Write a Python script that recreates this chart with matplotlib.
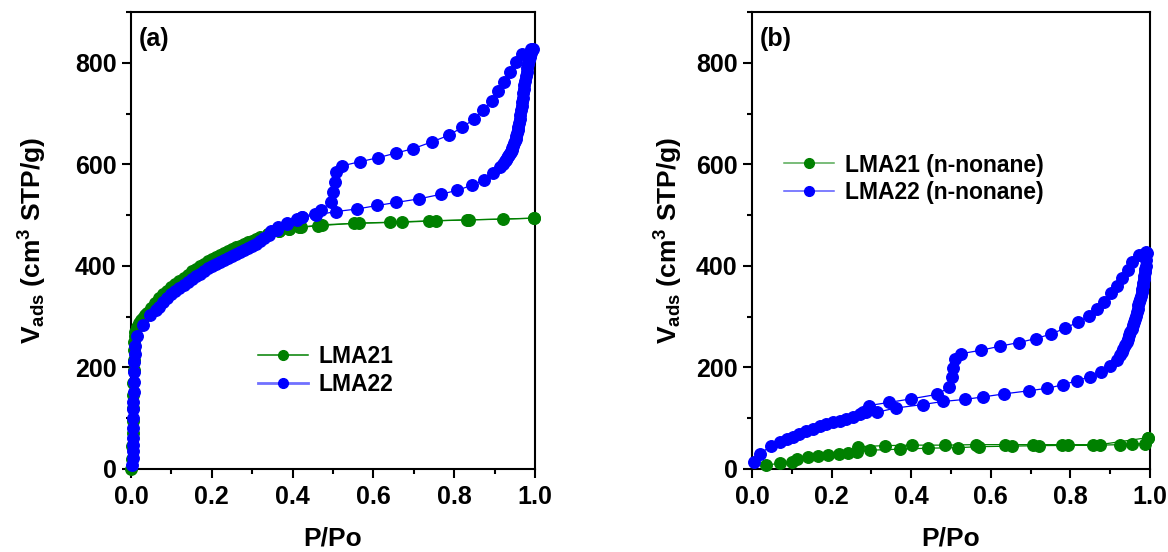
import matplotlib
matplotlib.use("Agg")
import matplotlib.pyplot as plt
from matplotlib.lines import Line2D
from matplotlib.ticker import MultipleLocator

plt.rcParams['font.family'] = ['Liberation Sans', 'DejaVu Sans']
plt.rcParams['font.weight'] = 'bold'
plt.rcParams['mathtext.fontset'] = 'custom'
plt.rcParams['mathtext.rm'] = 'Liberation Sans:bold'
plt.rcParams['mathtext.bf'] = 'Liberation Sans:bold'
plt.rcParams['mathtext.it'] = 'Liberation Sans:bold'

# ---------------- Panel (a) data ----------------
a_lma21_ads_p = [0.001, 0.002, 0.003, 0.004, 0.005, 0.005, 0.006, 0.006, 0.007, 0.007, 0.008, 0.008,
                 0.009, 0.010, 0.015, 0.020, 0.025, 0.030, 0.035, 0.040, 0.050, 0.060, 0.070, 0.080,
                 0.090, 0.100, 0.110, 0.120, 0.130, 0.140, 0.150, 0.160, 0.170, 0.180, 0.190, 0.200,
                 0.210, 0.220, 0.230, 0.240, 0.250, 0.260, 0.270, 0.280, 0.290, 0.300, 0.310, 0.320,
                 0.340, 0.366, 0.391, 0.420, 0.463, 0.552, 0.641, 0.738, 0.831, 0.922, 0.998]
a_lma21_ads_v = [0, 20, 45, 70, 95, 120, 145, 170, 195, 215, 235, 250,
                 262, 270, 280, 287, 293, 298, 303, 308, 318, 327, 336, 344,
                 351, 358, 365, 371, 377, 383, 389, 394, 399, 404, 409, 413,
                 417, 421, 425, 429, 433, 437, 440, 444, 447, 450, 453, 456,
                 463, 468, 472, 476, 479, 484, 486, 488.7, 490.6, 492, 494]
a_lma21_des_p = [0.998, 0.837, 0.754, 0.670, 0.564, 0.474, 0.416, 0.391, 0.366, 0.340]
a_lma21_des_v = [494, 490.6, 488.7, 486, 484, 481, 476, 472, 468, 463]

a_lma22_ads_p = [0.003, 0.004, 0.004, 0.005, 0.005, 0.005, 0.006, 0.006, 0.006, 0.007, 0.007, 0.008,
                 0.008, 0.009, 0.010, 0.016, 0.029, 0.047, 0.062, 0.070, 0.080, 0.090, 0.100, 0.110,
                 0.120, 0.130, 0.140, 0.150, 0.160, 0.170, 0.180, 0.190, 0.200, 0.210, 0.220, 0.230,
                 0.240, 0.250, 0.260, 0.270, 0.280, 0.290, 0.300, 0.310, 0.320, 0.330, 0.342, 0.362,
                 0.387, 0.410, 0.424, 0.457, 0.507, 0.559, 0.610, 0.657, 0.713, 0.767, 0.808, 0.845,
                 0.874, 0.896, 0.913, 0.920, 0.925, 0.928, 0.931, 0.934, 0.936, 0.938, 0.940, 0.942,
                 0.944, 0.946, 0.948, 0.950, 0.952, 0.954, 0.956, 0.958, 0.959, 0.961, 0.962, 0.964,
                 0.965, 0.967, 0.968, 0.970, 0.971, 0.973, 0.974, 0.976, 0.978, 0.980, 0.981, 0.983,
                 0.985, 0.987, 0.988, 0.990, 0.991, 0.993, 0.995]
a_lma22_ads_v = [8, 22, 35, 48, 61, 80, 100, 119, 132, 152, 171, 191,
                 210, 227, 243, 262, 283, 303, 314, 320, 328, 336, 344, 351,
                 357, 363, 369, 375, 380, 385, 390, 395, 399, 403, 407, 411,
                 415, 419, 423, 427, 431, 435, 439, 444, 449, 454, 460, 470,
                 482, 491, 496, 500, 507, 512, 519, 525, 532, 541, 549, 559,
                 569, 582, 594, 600, 606, 609, 612, 616, 619, 622, 625, 628,
                 632, 637, 642, 646, 650, 655, 661, 667, 674, 682, 690, 698,
                 707, 715, 723, 731, 740, 748, 756, 765, 773, 782, 790, 798,
                 806, 811, 816, 820, 824, 826, 828]
a_lma22_des_p = [0.990, 0.969, 0.952, 0.938, 0.923, 0.909, 0.893, 0.872, 0.849, 0.820, 0.786, 0.744,
                 0.699, 0.655, 0.611, 0.566, 0.522, 0.507, 0.504, 0.500, 0.494, 0.471, 0.455, 0.424,
                 0.410, 0.387, 0.365, 0.347]
a_lma22_des_v = [828, 817, 801, 782, 763, 744, 724, 707, 689, 673, 657, 644,
                 631, 622, 613, 605, 597, 584, 565, 545, 525, 510, 503, 497,
                 492, 485, 476, 468]

# ---------------- Panel (b) data ----------------
b_lma21_ads_p = [0.036, 0.070, 0.101, 0.113, 0.140, 0.165, 0.191, 0.218, 0.241, 0.265, 0.296, 0.371,
                 0.442, 0.518, 0.571, 0.653, 0.720, 0.794, 0.857, 0.924, 0.954, 0.987, 0.996]
b_lma21_ads_v = [8, 11, 14.5, 20, 23, 25.5, 27.5, 29.4, 32, 34, 37, 39,
                 41, 42, 44, 45, 46, 46.5, 46.5, 48, 49, 50, 62]
b_lma21_des_p = [0.996, 0.874, 0.779, 0.706, 0.636, 0.563, 0.485, 0.403, 0.334, 0.266]
b_lma21_des_v = [62, 48, 48, 48, 48, 48, 47, 47, 46, 44]

b_lma22_ads_p = [0.004, 0.019, 0.048, 0.071, 0.087, 0.103, 0.119, 0.136, 0.153, 0.170, 0.187, 0.203,
                 0.220, 0.237, 0.254, 0.271, 0.286, 0.315, 0.361, 0.429, 0.480, 0.534, 0.581, 0.634,
                 0.695, 0.742, 0.782, 0.817, 0.850, 0.878, 0.899, 0.916, 0.924, 0.929, 0.933, 0.937,
                 0.941, 0.944, 0.947, 0.951, 0.954, 0.957, 0.960, 0.963, 0.965, 0.967, 0.969, 0.971,
                 0.973, 0.975, 0.977, 0.979, 0.981, 0.982, 0.983, 0.985, 0.986, 0.987, 0.988, 0.989,
                 0.991, 0.992]
b_lma22_ads_v = [14, 30, 45, 53, 59, 63, 69, 74, 78, 84, 88, 92,
                 95, 99, 103, 108, 112, 112, 120, 127, 133, 137, 142, 148,
                 154, 159, 166, 174, 182, 192, 203, 214, 225, 231, 237, 244,
                 250, 257, 263, 270, 276, 283, 289, 296, 302, 309, 315, 322,
                 328, 335, 341, 348, 354, 361, 367, 374, 380, 387, 393, 400,
                 412, 426]
b_lma22_des_p = [0.990, 0.972, 0.955, 0.944, 0.929, 0.918, 0.901, 0.884, 0.868, 0.847, 0.818, 0.786,
                 0.752, 0.714, 0.670, 0.624, 0.576, 0.525, 0.510, 0.506, 0.502, 0.496, 0.465, 0.399,
                 0.343, 0.294, 0.280]
b_lma22_des_v = [427, 421, 408, 392, 377, 361, 346, 329, 315, 301, 289, 277,
                 266, 257, 249, 242, 234, 227, 216, 199, 181, 161, 147, 138,
                 131, 125, 112]

labels_a = ['LMA21', 'LMA22']
labels_b = ['LMA21 (n-nonane)', 'LMA22 (n-nonane)']
panel_tags = ['(a)', '(b)']
x_ticks = [0.0, 0.2, 0.4, 0.6, 0.8, 1.0]
y_ticks = [0, 200, 400, 600, 800]

GREEN = '#008000'
BLUE = '#0000ff'
MS = 8.3
LW = 0.9

fig = plt.figure(figsize=(11.68, 5.52), dpi=100)
ax_a = fig.add_axes([131/1168, 83/552, 404/1168, 457/552])
ax_b = fig.add_axes([752/1168, 83/552, 398/1168, 457/552])


def plot_series(ax, p, v, color):
    ax.plot(p, v, '-', color=color, lw=LW, marker='o', ms=MS, mec=color, mfc=color,
            clip_on=False, zorder=3)


plot_series(ax_a, a_lma21_ads_p, a_lma21_ads_v, GREEN)
plot_series(ax_a, a_lma21_des_p, a_lma21_des_v, GREEN)
plot_series(ax_a, a_lma22_ads_p, a_lma22_ads_v, BLUE)
plot_series(ax_a, a_lma22_des_p, a_lma22_des_v, BLUE)

plot_series(ax_b, b_lma21_ads_p, b_lma21_ads_v, GREEN)
plot_series(ax_b, b_lma21_des_p, b_lma21_des_v, GREEN)
plot_series(ax_b, b_lma22_ads_p, b_lma22_ads_v, BLUE)
plot_series(ax_b, b_lma22_des_p, b_lma22_des_v, BLUE)

for ax, tag, ylab_x in [(ax_a, panel_tags[0], -0.203), (ax_b, panel_tags[1], -0.168)]:
    ax.set_xlim(0, 1.0)
    ax.set_ylim(0, 900)
    ax.set_xticks(x_ticks)
    ax.set_xticklabels([f'{t:.1f}' for t in x_ticks])
    ax.set_yticks(y_ticks)
    ax.xaxis.set_minor_locator(MultipleLocator(0.1))
    ax.yaxis.set_minor_locator(MultipleLocator(100))
    ax.tick_params(which='major', direction='out', length=6.5, width=1.5, labelsize=18, pad=4)
    ax.tick_params(which='minor', direction='out', length=3.3, width=1.5)
    ax.tick_params(axis='x', which='major', pad=5)
    for lab in ax.get_xticklabels() + ax.get_yticklabels():
        lab.set_fontweight('bold')
    for sp in ax.spines.values():
        sp.set_linewidth(1.5)
    ax.set_xlabel('P/Po', fontsize=19, fontweight='bold')
    ax.xaxis.set_label_coords(0.5, -0.125)
    ax.set_ylabel(r'V$_{\rm ads}$ (cm$^{\rm 3}$ STP/g)', fontsize=19, fontweight='bold')
    ax.yaxis.set_label_coords(ylab_x, 0.5)
    ax.text(0.02, 0.94, tag, transform=ax.transAxes, fontsize=18, fontweight='bold',
            ha='left', va='center')

h_a = [Line2D([], [], color=GREEN, lw=1.1, marker='o', ms=7, mfc=GREEN, mec=GREEN),
       Line2D([], [], color='#7070ff', lw=2.0, marker='o', ms=7, mfc=BLUE, mec=BLUE)]
ax_a.legend(h_a, labels_a, loc='center left', bbox_to_anchor=(0.314, 0.2155), frameon=False,
            prop={'weight': 'bold', 'size': 16.5}, handlelength=2.2, handletextpad=0.45,
            labelspacing=0.2, borderpad=0, borderaxespad=0)

h_b = [Line2D([], [], color='#55aa55', lw=1.1, marker='o', ms=7, mfc=GREEN, mec=GREEN),
       Line2D([], [], color='#5a5aff', lw=1.1, marker='o', ms=7, mfc=BLUE, mec=BLUE)]
ax_b.legend(h_b, labels_b, loc='center left', bbox_to_anchor=(0.08, 0.635), frameon=False,
            prop={'weight': 'bold', 'size': 16.5}, handlelength=2.2, handletextpad=0.45,
            labelspacing=0.2, borderpad=0, borderaxespad=0)

fig.savefig('out.png', dpi=100)
